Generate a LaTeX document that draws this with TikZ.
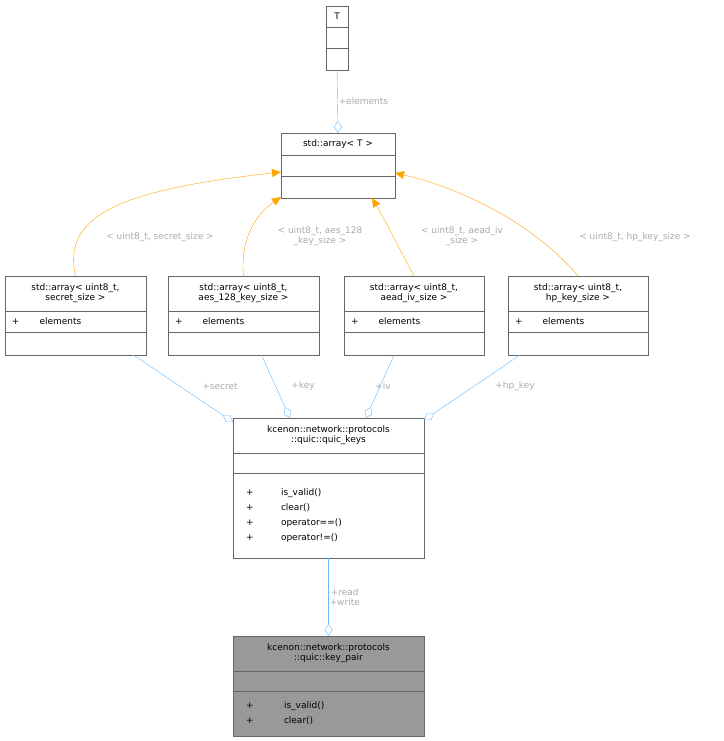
\documentclass[tikz,border=0pt]{standalone}
\usepackage{fontspec}
\setmainfont{DejaVu Sans}
\usetikzlibrary{arrows.meta, positioning, calc}
\definecolor{edgeblue}{RGB}{99, 184, 255}
\definecolor{edgeorange}{RGB}{255, 165, 0}
\definecolor{labelgray}{RGB}{170, 170, 170}
\definecolor{boxline}{RGB}{102, 102, 102}
\definecolor{mainfill}{RGB}{153, 153, 153}

\begin{document}
\begin{tikzpicture}[
    x=1pt, y=1pt,
    font=\fontsize{9}{10}\selectfont,
    cls/.style={draw=boxline, fill=white, inner sep=1pt, outer sep=0pt, align=center, anchor=north},
    cmp/.style={draw=boxline, fill=white, inner sep=0pt, outer sep=0pt, anchor=north},
    use/.style={edgeblue, -{Diamond[open, length=12pt, width=8pt]}},
    inh/.style={edgeorange, -{Triangle[length=9pt, width=8pt]}},
    lbl/.style={text=labelgray, align=center, inner sep=1pt}
]
    \useasboundingbox (0,0) rectangle (723,-741);
    % template
    \node[cls, minimum width=22, minimum height=21] (tT) at (337,-6) {T};
    \node[cmp, minimum width=22, minimum height=21, below=0 of tT] (tA) {};
    \node[cmp, minimum width=22, minimum height=22, below=0 of tA] (tB) {};
    % std::array
    \node[cls, minimum width=114, minimum height=22] (arr) at (338,-133) {std::array< T >};
    \node[cmp, minimum width=114, minimum height=21, below=0 of arr] (arrA) {};
    \node[cmp, minimum width=114, minimum height=22, below=0 of arrA] (arrB) {};
    % specialisations
    \foreach \nm/\cx/\w/\txt in {sec/75.5/141/{std::array< uint8\_t,\\secret\_size >},
                                 aes/243.5/151/{std::array< uint8\_t,\\aes\_128\_key\_size >},
                                 aead/414/140/{std::array< uint8\_t,\\aead\_iv\_size >},
                                 hp/578/140/{std::array< uint8\_t,\\hp\_key\_size >}} {
        \node[cls, minimum width=\w, minimum height=35] (\nm) at (\cx,-276) {\txt};
        \node[cmp, minimum width=\w, minimum height=21, below=0 of \nm, text width=\w pt-14pt, align=left] (\nm A) {+\hspace{20pt}elements};
        \node[cmp, minimum width=\w, minimum height=23, below=0 of \nm A] (\nm B) {};
    }
    % quic_keys
    \node[cls, minimum width=191, minimum height=35] (keys) at (328.5,-418) {kcenon::network::protocols\\::quic::quic\_keys};
    \node[cmp, minimum width=191, minimum height=20, below=0 of keys] (keysA) {};
    \node[cmp, minimum width=191, minimum height=85, below=0 of keysA, text width=165pt, align=left, font=\fontsize{9}{15}\selectfont] (keysB)
        {\makebox[35pt][l]{+}is\_valid()\\\makebox[35pt][l]{+}clear()\\\makebox[35pt][l]{+}operator==()\\\makebox[35pt][l]{+}operator!=()};
    % key_pair
    \node[cls, fill=mainfill, minimum width=191, minimum height=35] (pair) at (328.5,-636) {kcenon::network::protocols\\::quic::key\_pair};
    \node[cmp, fill=mainfill, minimum width=191, minimum height=20, below=0 of pair] (pairA) {};
    \node[cmp, fill=mainfill, minimum width=191, minimum height=45, below=0 of pairA, text width=165pt, align=left, font=\fontsize{9}{15}\selectfont] (pairB)
        {\makebox[38pt][l]{+}is\_valid()\\\makebox[38pt][l]{+}clear()};
    % connector ends
    \coordinate (arrSec) at (281,-172);
    \coordinate (arrAes) at (281,-197);
    \coordinate (arrAead) at (372,-198);
    \coordinate (arrHp) at (395,-173);
    \coordinate (keySec) at (233,-422);
    \coordinate (keyAes) at (290,-418);
    \coordinate (keyAead) at (366,-418);
    \coordinate (keyHp) at (424,-420);

    \draw[use] (tB.south) -- (arr.north) node[lbl, midway, right] {+elements};
    \draw[inh] (sec.north) .. controls (62,-215) and (120,-190) .. (arrSec);
    \draw[inh] (aes.north) .. controls (240,-240) and (255,-215) .. (arrAes);
    \draw[inh] (aead.north) .. controls (400,-250) and (385,-220) .. (arrAead);
    \draw[inh] (hp.north) .. controls (540,-230) and (470,-190) .. (arrHp);
    \node[lbl] (lSec) at (160,-237) {< uint8\_t, secret\_size >};
    \node[lbl] (lAes) at (320,-236) {< uint8\_t, aes\_128\\\_key\_size >};
    \node[lbl] (lAead) at (462,-236) {< uint8\_t, aead\_iv\\\_size >};
    \node[lbl] (lHp) at (635,-237) {< uint8\_t, hp\_key\_size >};

    \draw[use] ($(secB.south)+(58,0)$) -- (keySec);
    \draw[use] ($(aesB.south)+(18,0)$) -- (keyAes);
    \draw[use] ($(aeadB.south)+(-20,0)$) -- (keyAead);
    \draw[use] ($(hpB.south)+(-58,0)$) -- (keyHp);
    \node[lbl] (lsec) at (220,-386) {+secret};
    \node[lbl] (lkey) at (303,-386) {+key};
    \node[lbl] (liv) at (383,-386) {+iv};
    \node[lbl] (lhp) at (515,-386) {+hp\_key};

    \draw[use] (keysB.south) -- (pair.north) node[lbl, midway, right] {+read\\+write};
\end{tikzpicture}
\end{document}
